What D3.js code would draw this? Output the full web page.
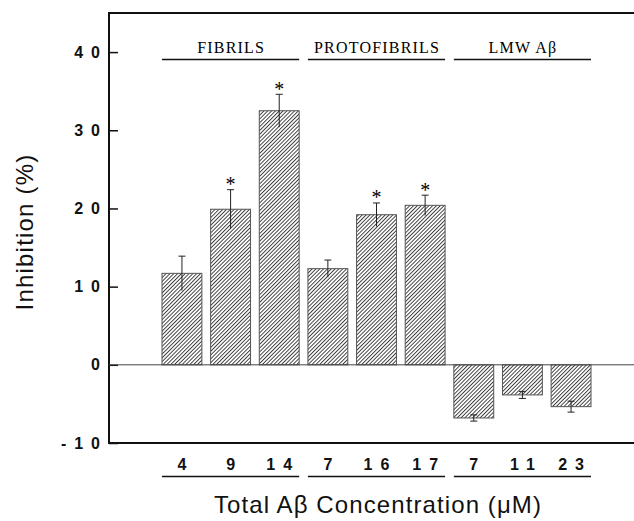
<!DOCTYPE html>
<html>
<head>
<meta charset="utf-8">
<script src="https://cdn.jsdelivr.net/npm/d3@7"></script>
<style>
  body { margin: 0; background: #fff; }
  svg { display: block; }
</style>
</head>
<body>
<div id="chart"></div>
<script>
// concentrations (uM) under each bar, grouped by A-beta form
var concentrations = ['4', '9', '14', '7', '16', '17', '7', '11', '23'];
var groups = ['FIBRILS', 'PROTOFIBRILS', 'LMW A\u03b2'];
var groupOf = [0, 0, 0, 1, 1, 1, 2, 2, 2];
var inhibition = [11.7, 19.9, 32.5, 12.3, 19.2, 20.4, -6.8, -3.85, -5.35];
var errors = [2.2, 2.5, 2.1, 1.1, 1.5, 1.3, 0.4, 0.45, 0.7];
var significant = [false, true, true, false, true, true, false, false, false];
var yTicks = [-10, 0, 10, 20, 30, 40];

(function(d3) {
  'use strict';

  var width = 634;
  var height = 521;
  var left = 109, top = 13, bottom = 443;

  var svg = d3.select('#chart')
    .append('svg')
    .attr('width', width)
    .attr('height', height);

  // diagonal hatch used for every bar
  svg.append('defs')
    .append('pattern')
    .attr('id', 'hatch')
    .attr('patternUnits', 'userSpaceOnUse')
    .attr('width', 2.7)
    .attr('height', 2.7)
    .attr('patternTransform', 'rotate(45)')
    .call(function(p) {
      p.append('rect').attr('width', 2.7).attr('height', 2.7).attr('fill', '#fff');
      p.append('line')
        .attr('x1', 0.5).attr('y1', 0).attr('x2', 0.5).attr('y2', 2.7)
        .attr('stroke', '#222').attr('stroke-width', 0.85);
    });

  var idx = d3.range(inhibition.length);

  var x = d3.scaleBand()
    .domain(idx)
    .range([162, 591])
    .paddingInner(0.18)
    .paddingOuter(0);

  var y = d3.scaleLinear()
    .domain([-10, 45])
    .range([bottom, top]);

  var cx = function(i) { return x(i) + x.bandwidth() / 2; };

  // y axis, ticks pointing inward
  var yAxis = svg.append('g')
    .attr('transform', 'translate(' + left + ',0)')
    .call(d3.axisLeft(y).tickValues(yTicks).tickSize(-9)
      .tickFormat(function(d) { return String(d); }));
  yAxis.select('.domain').remove();
  yAxis.selectAll('.tick line').attr('stroke', '#111').attr('stroke-width', 1.5);
  yAxis.selectAll('.tick text')
    .attr('x', -1)
    .attr('font-family', 'Liberation Sans, Arial, sans-serif')
    .attr('font-weight', 'bold')
    .attr('font-size', 16)
    .attr('letter-spacing', '8px')
    .attr('fill', '#111');

  // frame
  svg.append('line')
    .attr('x1', left).attr('x2', width).attr('y1', y(45)).attr('y2', y(45))
    .attr('stroke', '#111').attr('stroke-width', 2);
  svg.append('line')
    .attr('x1', left).attr('x2', width).attr('y1', y(-10)).attr('y2', y(-10))
    .attr('stroke', '#111').attr('stroke-width', 2);
  svg.append('line')
    .attr('x1', left).attr('x2', left).attr('y1', y(45) - 1).attr('y2', y(-10) + 1)
    .attr('stroke', '#111').attr('stroke-width', 2);

  // bars
  svg.selectAll('rect.bar')
    .data(idx)
    .enter()
    .append('rect')
    .attr('class', 'bar')
    .attr('x', function(i) { return x(i); })
    .attr('y', function(i) { return y(Math.max(0, inhibition[i])); })
    .attr('width', x.bandwidth())
    .attr('height', function(i) { return Math.abs(y(inhibition[i]) - y(0)); })
    .attr('fill', 'url(#hatch)')
    .attr('stroke', '#555')
    .attr('stroke-width', 1);

  // zero line
  svg.append('line')
    .attr('x1', left).attr('x2', width).attr('y1', y(0)).attr('y2', y(0))
    .attr('stroke', '#444').attr('stroke-width', 1);

  // error bars
  var capW = 3.5;
  var err = svg.selectAll('g.err')
    .data(idx)
    .enter()
    .append('g')
    .attr('class', 'err')
    .attr('stroke', '#222')
    .attr('stroke-width', 1);
  err.append('line')
    .attr('x1', cx).attr('x2', cx)
    .attr('y1', function(i) { return y(inhibition[i] + errors[i]); })
    .attr('y2', function(i) { return y(inhibition[i] - errors[i]); });
  err.append('line')
    .attr('x1', function(i) { return cx(i) - capW; })
    .attr('x2', function(i) { return cx(i) + capW; })
    .attr('y1', function(i) { return y(inhibition[i] + errors[i]); })
    .attr('y2', function(i) { return y(inhibition[i] + errors[i]); });
  err.filter(function(i) { return inhibition[i] < 0; })
    .append('line')
    .attr('x1', function(i) { return cx(i) - capW; })
    .attr('x2', function(i) { return cx(i) + capW; })
    .attr('y1', function(i) { return y(inhibition[i] - errors[i]); })
    .attr('y2', function(i) { return y(inhibition[i] - errors[i]); });

  // significance stars
  svg.selectAll('text.star')
    .data(idx.filter(function(i) { return significant[i]; }))
    .enter()
    .append('text')
    .attr('class', 'star')
    .attr('x', cx)
    .attr('y', function(i) { return y(inhibition[i] + errors[i]) + 1.5; })
    .attr('text-anchor', 'middle')
    .attr('font-family', 'Liberation Serif, Times New Roman, serif')
    .attr('font-size', 20)
    .text('*');

  // group headers and underlines
  groups.forEach(function(name, g) {
    var members = idx.filter(function(i) { return groupOf[i] === g; });
    var x0 = x(members[0]);
    var x1 = x(members[members.length - 1]) + x.bandwidth();

    svg.append('text')
      .attr('x', (x0 + x1) / 2 + 0.6)
      .attr('y', 53)
      .attr('text-anchor', 'middle')
      .attr('font-family', 'Liberation Serif, Times New Roman, serif')
      .attr('font-size', 16)
      .attr('letter-spacing', '1.2px')
      .text(name);
    svg.append('line')
      .attr('x1', x0).attr('x2', x1).attr('y1', 59.5).attr('y2', 59.5)
      .attr('stroke', '#111').attr('stroke-width', 1.6);

    svg.append('line')
      .attr('x1', x0).attr('x2', x1).attr('y1', 476.5).attr('y2', 476.5)
      .attr('stroke', '#111').attr('stroke-width', 1.4);
  });

  // concentration labels
  svg.selectAll('text.conc')
    .data(idx)
    .enter()
    .append('text')
    .attr('class', 'conc')
    .attr('x', function(i) { return cx(i) + 4; })
    .attr('y', 470)
    .attr('text-anchor', 'middle')
    .attr('font-family', 'Liberation Sans, Arial, sans-serif')
    .attr('font-weight', 'bold')
    .attr('font-size', 16)
    .attr('letter-spacing', '8px')
    .attr('fill', '#111')
    .text(function(i) { return concentrations[i]; });

  // axis titles
  svg.append('text')
    .attr('transform', 'translate(33,232) rotate(-90)')
    .attr('text-anchor', 'middle')
    .attr('font-family', 'Liberation Sans, Arial, sans-serif')
    .attr('font-size', 24)
    .attr('letter-spacing', '1.2px')
    .attr('fill', '#111')
    .text('Inhibition (%)');

  svg.append('text')
    .attr('x', 378)
    .attr('y', 513)
    .attr('text-anchor', 'middle')
    .attr('font-family', 'Liberation Sans, Arial, sans-serif')
    .attr('font-size', 24)
    .attr('letter-spacing', '1.1px')
    .attr('fill', '#111')
    .text('Total A\u03b2 Concentration (\u03bcM)');

})(window.d3);
</script>
</body>
</html>
